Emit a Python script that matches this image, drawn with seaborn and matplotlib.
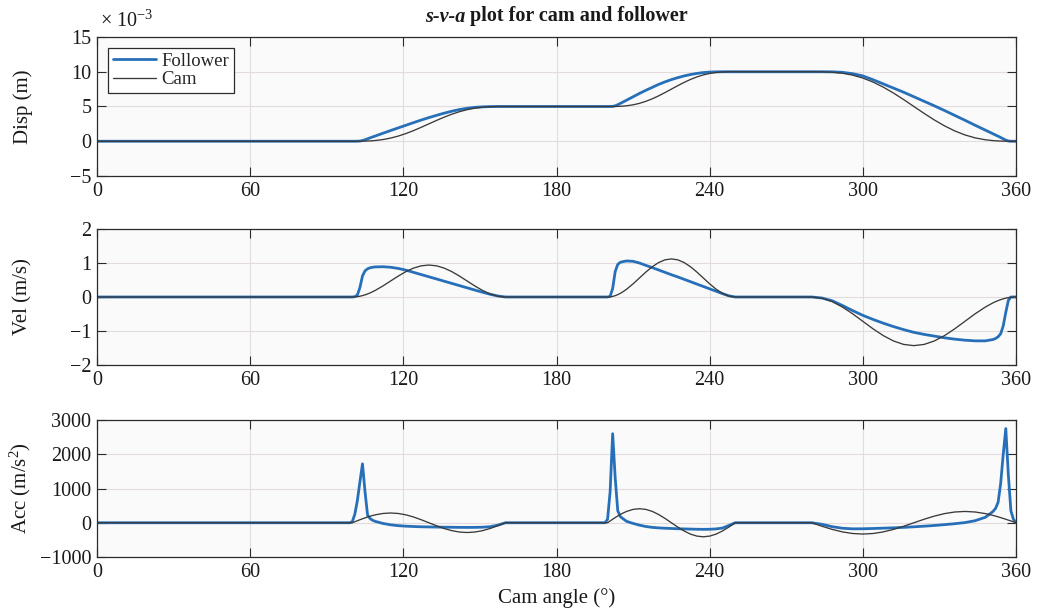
import numpy as np
import matplotlib
matplotlib.use("Agg")
import matplotlib.pyplot as plt
from matplotlib.ticker import FuncFormatter
import seaborn as sns

# Cam angle (degrees) at which every series is sampled
angle = [0, 99, 100, 101, 102, 103, 104, 105, 106, 107, 108, 109,
         112, 115, 118, 121, 124, 127, 130, 133, 136, 139, 142, 145, 148, 151, 154, 157, 160,
         199, 200, 201, 202, 203, 204, 205, 206,
         207.5, 210, 212.5, 215, 217.5, 220, 222.5, 225, 227.5, 230, 232.5, 235, 237.5, 240,
         242.5, 245, 247.5, 250,
         280, 284, 288, 292, 296, 300, 304, 308, 312, 316, 320, 324, 328, 332, 336, 340, 344, 348,
         351, 352, 353, 354, 355, 356, 357, 358, 359, 360]

# Displacement (mm)
cam_disp_mm = [0, 0, 0, 0.0002, 0.001, 0.004, 0.010, 0.019, 0.032, 0.051, 0.075, 0.106,
               0.243, 0.454, 0.743, 1.106, 1.532, 2.004, 2.5, 2.996, 3.468, 3.894, 4.257, 4.546,
               4.757, 4.894, 4.968, 4.996, 5.0,
               5.0, 5.0, 5.0003, 5.002, 5.007, 5.017, 5.032, 5.055,
               5.106, 5.243, 5.454, 5.743, 6.106, 6.532, 7.004, 7.5, 7.996, 8.468, 8.894, 9.257,
               9.546, 9.757, 9.894, 9.968, 9.996, 10.0,
               10.0, 9.992, 9.936, 9.788, 9.514, 9.092, 8.514, 7.788, 6.936, 5.992, 5.0, 4.008,
               3.064, 2.212, 1.486, 0.908, 0.486, 0.212,
               0.091, 0.065, 0.043, 0.027, 0.016, 0.008, 0.0035, 0.001, 0.0001, 0]
follower_disp_mm = [0, 0, 0, 0, 0.005, 0.03, 0.10, 0.22, 0.35, 0.49, 0.63, 0.75,
                    1.15, 1.54, 1.92, 2.30, 2.68, 3.05, 3.40, 3.73, 4.04, 4.32, 4.56, 4.75,
                    4.88, 4.95, 4.985, 4.998, 5.0,
                    5.0, 5.0, 5.0, 5.02, 5.10, 5.26, 5.44, 5.63,
                    5.92, 6.40, 6.88, 7.33, 7.75, 8.18, 8.54, 8.87, 9.15, 9.40, 9.60, 9.76,
                    9.88, 9.95, 9.985, 9.997, 10.0, 10.0,
                    10.0, 9.998, 9.985, 9.92, 9.72, 9.40, 8.85, 8.25, 7.65, 7.05, 6.40, 5.75,
                    5.10, 4.42, 3.72, 3.02, 2.30, 1.60,
                    1.07, 0.89, 0.72, 0.54, 0.35, 0.16, 0.04, 0, 0, 0]

# Velocity (m/s)
cam_vel = [0, 0, 0, 0.003, 0.010, 0.023, 0.041, 0.063, 0.090, 0.121, 0.156, 0.194,
           0.325, 0.47, 0.615, 0.746, 0.850, 0.917, 0.94, 0.917, 0.850, 0.746, 0.615, 0.47,
           0.325, 0.194, 0.090, 0.023, 0,
           0, 0, 0.004, 0.018, 0.039, 0.069, 0.107, 0.152,
           0.231, 0.387, 0.56, 0.733, 0.889, 1.013, 1.093, 1.12, 1.093, 1.013, 0.889, 0.733,
           0.56, 0.387, 0.231, 0.107, 0.027, 0,
           0, -0.035, -0.137, -0.295, -0.494, -0.715, -0.936, -1.135, -1.293, -1.395, -1.43,
           -1.395, -1.293, -1.135, -0.936, -0.715, -0.494, -0.295,
           -0.171, -0.137, -0.105, -0.078, -0.054, -0.035, -0.020, -0.009, -0.002, 0]
follower_vel = [0, 0, 0, 0.01, 0.06, 0.28, 0.62, 0.77, 0.83, 0.86, 0.875, 0.885,
                0.89, 0.875, 0.84, 0.79, 0.725, 0.66, 0.595, 0.53, 0.465, 0.40, 0.335, 0.27,
                0.205, 0.14, 0.08, 0.03, 0,
                0, 0, 0.02, 0.25, 0.75, 0.96, 1.02, 1.04,
                1.06, 1.05, 1.00, 0.93, 0.865, 0.795, 0.725, 0.655, 0.59, 0.52, 0.45, 0.38,
                0.31, 0.24, 0.17, 0.10, 0.035, 0,
                0, -0.03, -0.11, -0.25, -0.40, -0.54, -0.66, -0.77, -0.87, -0.96, -1.04,
                -1.10, -1.15, -1.20, -1.24, -1.27, -1.29, -1.29,
                -1.25, -1.22, -1.17, -1.08, -0.85, -0.45, -0.10, 0, 0, 0]

# Acceleration (m/s^2)
cam_acc = [0, 0, 0, 30, 59, 88, 116, 142, 168, 191, 212, 231,
           271, 285, 271, 231, 168, 88, 0, -88, -168, -231, -271, -285,
           -271, -231, -168, -88, 0,
           0, 0, 51, 102, 151, 198, 241, 281,
           332, 390, 410, 390, 332, 241, 127, 0, -127, -241, -332, -390,
           -410, -390, -332, -241, -127, 0,
           0, -102, -194, -267, -314, -330, -314, -267, -194, -102, 0,
           102, 194, 267, 314, 330, 314, 267,
           214, 194, 172, 150, 126, 102, 77, 52, 26, 0]
follower_acc = [0, 0, 30, 250, 650, 1200, 1720, 900, 220, 120, 70, 40,
                -20, -60, -85, -100, -110, -118, -122, -126, -130, -132, -135, -136,
                -135, -130, -115, -70, 0,
                0, 100, 900, 2600, 1300, 350, 180, 120,
                40, -20, -70, -110, -135, -150, -160, -168, -175, -180, -185, -190,
                -192, -190, -180, -155, -80, 0,
                0, -45, -115, -160, -178, -176, -168, -158, -148, -135, -118,
                -100, -80, -55, -28, 5, 60, 160,
                330, 420, 600, 1150, 2000, 2750, 1400, 350, 100, 0]

x_ticks = [0, 60, 120, 180, 240, 300, 360]
disp_ticks_mm = [-5, 0, 5, 10, 15]
vel_ticks = [-2, -1, 0, 1, 2]
acc_ticks = [-1000, 0, 1000, 2000, 3000]

FOLLOWER_COLOR = "#2770b9"
CAM_COLOR = "#3a3a3a"
EDGE = "#2b2b2b"
TEXT = "#1a1a1a"

sns.set_theme(style="ticks")
plt.rcParams["font.family"] = ["Liberation Serif", "DejaVu Serif"]
plt.rcParams["mathtext.fontset"] = "custom"
plt.rcParams["mathtext.rm"] = "Liberation Serif"
plt.rcParams["mathtext.it"] = "Liberation Serif:italic"
plt.rcParams["axes.unicode_minus"] = True

W, H = 1037, 613
fig = plt.figure(figsize=(W / 100, H / 100), dpi=100, facecolor="white")

def px_axes(left, top, right, bottom):
    return fig.add_axes([left / W, 1 - bottom / H, (right - left) / W, (bottom - top) / H])

ax1 = px_axes(97, 37, 1016, 176)
ax2 = px_axes(97, 229, 1016, 365)
ax3 = px_axes(97, 420, 1016, 557)

ang = np.array(angle)
panels = [
    (ax1, np.array(follower_disp_mm) * 1e-3, np.array(cam_disp_mm) * 1e-3,
     [t * 1e-3 for t in disp_ticks_mm], "Disp (m)"),
    (ax2, np.array(follower_vel), np.array(cam_vel), vel_ticks, "Vel (m/s)"),
    (ax3, np.array(follower_acc), np.array(cam_acc), acc_ticks, "Acc (m/s$^2$)"),
]

TICK_FS = 14.5
LABEL_FS = 15
for ax, fol, cam, yt, ylab in panels:
    ax.set_facecolor("#fafafa")
    sns.lineplot(x=ang, y=fol, ax=ax, color=FOLLOWER_COLOR, linewidth=2.0,
                 label="Follower", sort=False)
    sns.lineplot(x=ang, y=cam, ax=ax, color=CAM_COLOR, linewidth=0.95,
                 label="Cam", sort=False)
    ax.set_xlim(0, 360)
    ax.set_ylim(yt[0], yt[-1])
    ax.set_xticks(x_ticks)
    ax.set_yticks(yt)
    ax.grid(True, color="#e4dcdc", linewidth=0.8)
    ax.set_axisbelow(True)
    for sp in ax.spines.values():
        sp.set_visible(True)
        sp.set_color(EDGE)
        sp.set_linewidth(0.9)
    ax.tick_params(direction="in", top=True, right=True, length=6.5, width=0.8,
                   color=EDGE, labelsize=TICK_FS, labelcolor=TEXT, pad=4)
    ax.set_ylabel(ylab, fontsize=LABEL_FS, color=TEXT)
    ax.yaxis.set_label_coords(-0.070, 0.5)
    ax.set_xlabel("")
    if ax is not ax1:
        ax.get_legend().remove()

# Displacement ticks are shown in units of 10^-3 m, with the multiplier above the axis
ax1.yaxis.set_major_formatter(FuncFormatter(lambda v, pos: f"{v * 1e3:.0f}".replace("-", "\u2212")))
ax1.text(0.003, 1.035, "\u00d7 10$^{\u22123}$", transform=ax1.transAxes,
         fontsize=TICK_FS, color=TEXT, ha="left", va="bottom")

leg = ax1.legend(loc="upper left", frameon=True, fancybox=False, framealpha=1,
                 facecolor="white", edgecolor=EDGE, fontsize=13.5, handlelength=2.3,
                 borderpad=0.25, labelspacing=0.05, handletextpad=0.3, borderaxespad=0.6)
leg.get_frame().set_linewidth(0.9)

ax3.set_xlabel("Cam angle (°)", fontsize=LABEL_FS, color=TEXT, labelpad=5)

# Title: italic "s-v-a" followed by upright bold text, centred over the panels
TITLE_FS = 14.5
t1 = fig.text(0, 0, "s-v-a", fontsize=TITLE_FS, fontweight="bold", fontstyle="italic",
              color=TEXT, va="baseline")
t2 = fig.text(0, 0, " plot for cam and follower", fontsize=TITLE_FS, fontweight="bold",
              color=TEXT, va="baseline")
fig.canvas.draw()
r = fig.canvas.get_renderer()
w1 = t1.get_window_extent(r).width
w2 = t2.get_window_extent(r).width
cx = (97 + 1016) / 2
x0 = cx - (w1 + w2) / 2
yb = 1 - 21.5 / H
t1.set_position((x0 / W, yb))
t2.set_position(((x0 + w1) / W, yb))

fig.savefig("out.png", dpi=100, facecolor="white")
